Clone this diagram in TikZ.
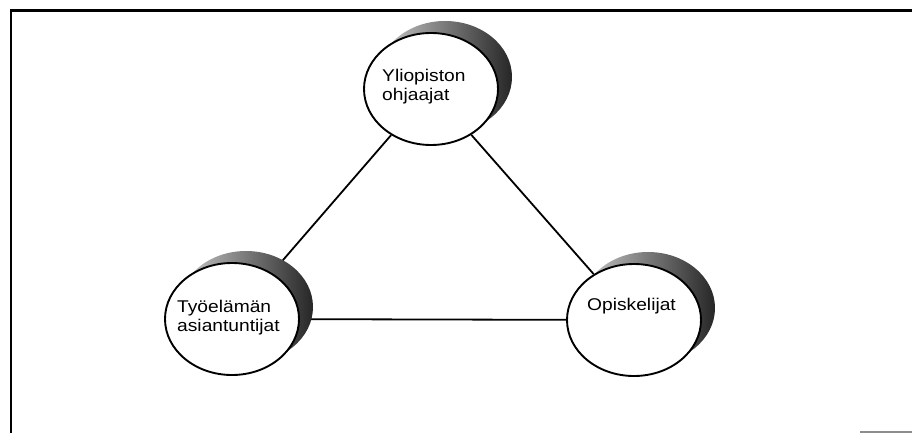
\documentclass[tikz,border=0pt]{standalone}
\usepackage{fontspec}
\setmainfont{Liberation Sans}[FakeStretch=1.13]
\usetikzlibrary{shapes.geometric}
\pgfdeclarelayer{background}
\pgfsetlayers{background,main}
\tikzset{
  bubble/.style={ellipse, draw=black, line width=1.9pt, fill=white,
    minimum width=134pt, minimum height=112pt, inner sep=0pt},
  bubbleshadow/.style={ellipse, minimum width=134pt, minimum height=112pt,
    inner sep=0pt, left color=black!20, right color=black!85},
  label/.style={anchor=north west, inner sep=0pt, align=left,
    font=\fontsize{17}{19}\selectfont},
  link/.style={line width=1.8pt, draw=black},
  frame/.style={line width=2.6pt, draw=black}
}
\begin{document}
\begin{tikzpicture}[x=1pt,y=-1pt]
\useasboundingbox (0,0) rectangle (912,433);
% frame
\coordinate (fbl) at (11,433);
\coordinate (ftl) at (11,10.5);
\coordinate (ftr) at (912,10.5);
\draw[frame] (fbl) -- (ftl) -- (ftr);
\coordinate (gl) at (860,432);
\coordinate (gr) at (912,432);
\draw[line width=1.2pt, draw=black!45] (gl) -- (gr);
% shadows
\node[bubbleshadow] (topsh) at (445,77) {};
\node[bubbleshadow] (leftsh) at (246,307) {};
\node[bubbleshadow] (rightsh) at (648,308) {};
% ellipses
\node[bubble] (top) at (431,89) {};
\node[bubble] (left) at (232,319) {};
\node[bubble] (right) at (634,320) {};
% texts
\node[label] (toptext) at (382,69) {Yliopiston\\ohjaajat};
\node[label] (lefttext) at (177,300) {Työelämän\\asiantuntijat};
\node[label] (righttext) at (587,298) {Opiskelijat};
% connectors
\begin{pgfonlayer}{background}
\draw[link] (top) -- (left);
\draw[link] (top) -- (right);
\draw[link] (left) -- (right);
\end{pgfonlayer}
\end{tikzpicture}
\end{document}
